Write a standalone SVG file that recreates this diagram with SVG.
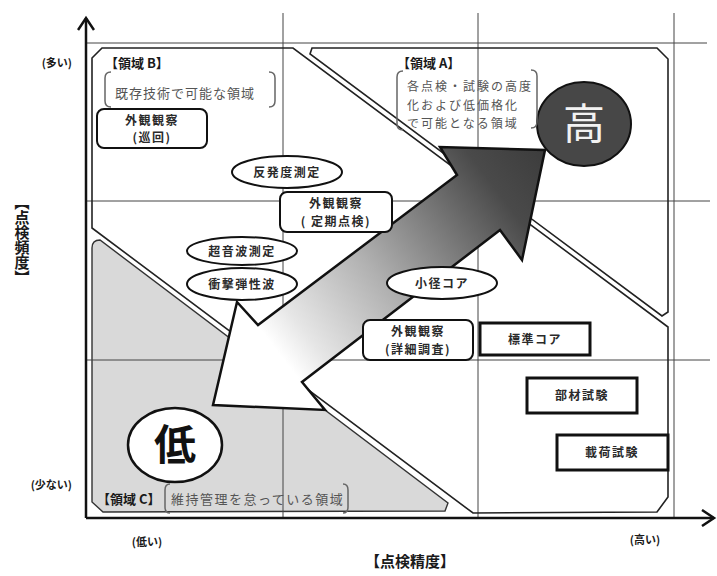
<svg xmlns="http://www.w3.org/2000/svg" width="717" height="576" viewBox="0 0 717 576">
<defs>
<style>
.t{font-family:"Noto Sans CJK JP","Noto Sans",sans-serif;font-weight:bold;fill:#1a1a1a}
.n{font-family:"Noto Sans CJK JP","Noto Sans",sans-serif;font-weight:bold;font-size:12px;fill:#2a2a2a;text-anchor:middle;letter-spacing:1.5px}
.m{font-family:"Noto Sans CJK JP","Noto Sans",sans-serif;font-size:13px;fill:#555;letter-spacing:1px}
.ma{font-family:"Noto Sans CJK JP","Noto Sans",sans-serif;font-size:12px;fill:#555;letter-spacing:2px}
.grid{stroke:#444;stroke-width:1;fill:none}
.reg{stroke:#222;stroke-width:1.6;fill:none}
.rbox{fill:#fff;stroke:#111;stroke-width:2}
.sbox{fill:#fff;stroke:#111;stroke-width:3}
.ell{fill:#fff;stroke:#111;stroke-width:2}
.brk{fill:none;stroke:#666;stroke-width:1.5}
.axis{stroke:#111;stroke-width:2.5;fill:none}
</style>
<linearGradient id="ag" gradientUnits="userSpaceOnUse" x1="213" y1="405" x2="545" y2="150">
<stop offset="0" stop-color="#ffffff"/>
<stop offset="0.2" stop-color="#ffffff"/>
<stop offset="0.28" stop-color="#e6e6e6"/>
<stop offset="0.5" stop-color="#b0b0b0"/>
<stop offset="0.72" stop-color="#707070"/>
<stop offset="0.85" stop-color="#4a4a4a"/>
<stop offset="1" stop-color="#3c3c3c"/>
</linearGradient>
<marker id="ah" markerWidth="16" markerHeight="18" refX="13" refY="9" orient="auto" markerUnits="userSpaceOnUse">
<path d="M1,1 L13,9 L1,17" fill="none" stroke="#111" stroke-width="2.5"/>
</marker>
</defs>
<rect width="717" height="576" fill="#fff"/>

<g id="regionC-fill">
<path d="M92,248 Q92,240 100,240 L448,503 L445,511 L103,512 L92,502 Z" fill="#d9d9d9" stroke="#333" stroke-width="1.4"/>
</g>

<g id="grid">
<line class="grid" x1="86" y1="43" x2="707" y2="43"/>
<line class="grid" x1="86" y1="201" x2="710" y2="201"/>
<line class="grid" x1="86" y1="360" x2="710" y2="360"/>
<line class="grid" x1="283" y1="13" x2="283" y2="518"/>
<line class="grid" x1="478" y1="13" x2="478" y2="518"/>
<line class="grid" x1="674" y1="13" x2="674" y2="518"/>
</g>

<g id="regions">
<path class="reg" d="M92,58 L102,48 L293,48 L668,327 L668,497 L657,512 L473,513 L92,228 Z"/>
<path class="reg" d="M312,48 L657,48 L668,59 L668,312 L662,316 L310,54 Z"/>
</g>

<g id="axes">
<line class="axis" x1="86" y1="518" x2="86" y2="18" marker-end="url(#ah)"/>
<line class="axis" x1="86" y1="518" x2="714" y2="518" marker-end="url(#ah)"/>
</g>

<g id="connectors">
<path d="M545,150 L522,260 L500,230 L302,382 L325,410 L213,405 L237,302 L258,325 L457,175 L440,147 Z" fill="url(#ag)" stroke="#111" stroke-width="2.5" stroke-linejoin="miter"/>
</g>

<g id="high">
<ellipse cx="584" cy="124" rx="47" ry="42" fill="#474747" stroke="#111" stroke-width="2"/>
<text x="584" y="139" font-family="Noto Sans CJK JP,sans-serif" font-size="42" fill="#f2f2f2" text-anchor="middle">高</text>
</g>
<g id="low">
<ellipse cx="175" cy="445" rx="47" ry="37" fill="#fff" stroke="#111" stroke-width="2.5"/>
<text x="175" y="460" font-family="Noto Sans CJK JP,sans-serif" font-weight="bold" font-size="42" fill="#111" text-anchor="middle">低</text>
</g>

<g id="regionB-label">
<text class="t" x="105" y="68" font-size="13">【領域 B】</text>
<path class="brk" d="M111,72 Q105,72 105,78 L105,101 Q105,107 111,107"/>
<path class="brk" d="M269,72 Q275,72 275,78 L275,101 Q275,107 269,107"/>
<text class="m" x="115" y="98">既存技術で可能な領域</text>
</g>

<g id="regionA-label">
<text class="t" x="397" y="68" font-size="13">【領域 A】</text>
<path class="brk" d="M403,71 Q397,71 397,77 L397,124 Q397,130 403,130"/>
<path class="brk" d="M531,70 Q537,70 537,76 L537,122 Q537,128 531,128"/>
<text class="ma" x="407" y="91">各点検・試験の高度</text>
<text class="ma" x="407" y="109.5">化および低価格化</text>
<text class="ma" x="407" y="128">で可能となる領域</text>
</g>

<g id="regionC-label">
<text class="t" x="97" y="504" font-size="13">【領域 C】</text>
<path class="brk" d="M170,484 Q165,484 165,490 L165,507 Q165,513 170,513"/>
<path class="brk" d="M343,484 Q348,484 348,490 L348,507 Q348,513 343,513"/>
<text class="m" x="171" y="504" style="letter-spacing:1.5px">維持管理を怠っている領域</text>
</g>

<g id="n-gaikan-junkai">
<rect class="rbox" x="97" y="109" width="110" height="39" rx="7"/>
<text class="n" x="152" y="125">外観観察</text>
<text class="n" x="152" y="142">(巡回)</text>
</g>
<g id="n-hanpatsu">
<ellipse class="ell" cx="287" cy="172" rx="55" ry="16"/>
<text class="n" x="287" y="177">反発度測定</text>
</g>
<g id="n-gaikan-teiki">
<rect class="rbox" x="280" y="192" width="112" height="40" rx="7"/>
<text class="n" x="336" y="208">外観観察</text>
<text class="n" x="336" y="226">(  定期点検)</text>
</g>
<g id="n-choonpa">
<ellipse class="ell" cx="242" cy="251" rx="55" ry="14"/>
<text class="n" x="242" y="256">超音波測定</text>
</g>
<g id="n-shogeki">
<ellipse class="ell" cx="242" cy="284" rx="55" ry="16"/>
<text class="n" x="242" y="289">衝撃弾性波</text>
</g>
<g id="n-shokei">
<ellipse class="ell" cx="442" cy="283" rx="55" ry="16"/>
<text class="n" x="442" y="288">小径コア</text>
</g>
<g id="n-gaikan-shosai">
<rect class="rbox" x="363" y="320" width="110" height="40" rx="7"/>
<text class="n" x="418" y="336">外観観察</text>
<text class="n" x="418" y="354">(詳細調査)</text>
</g>
<g id="n-hyojun">
<rect class="sbox" x="480" y="323" width="110" height="32"/>
<text class="n" x="535" y="344">標準コア</text>
</g>
<g id="n-buzai">
<rect class="sbox" x="527" y="378" width="110" height="35"/>
<text class="n" x="582" y="400">部材試験</text>
</g>
<g id="n-saika">
<rect class="sbox" x="557" y="435" width="111" height="35"/>
<text class="n" x="612" y="457">載荷試験</text>
</g>

<g id="axis-labels">
<text class="t" x="72" y="67" font-size="11" text-anchor="end">(多い)</text>
<text class="t" x="72" y="489" font-size="11" text-anchor="end">(少ない)</text>
<text class="t" x="147" y="546" font-size="11" text-anchor="middle">(低い)</text>
<text class="t" x="645" y="544" font-size="11" text-anchor="middle">(高い)</text>
<text class="t" x="365" y="567" font-size="15">【点検精度】</text>
<text class="t" x="22" y="195" font-size="15" style="writing-mode:vertical-rl">【点検頻度】</text>
</g>
</svg>
